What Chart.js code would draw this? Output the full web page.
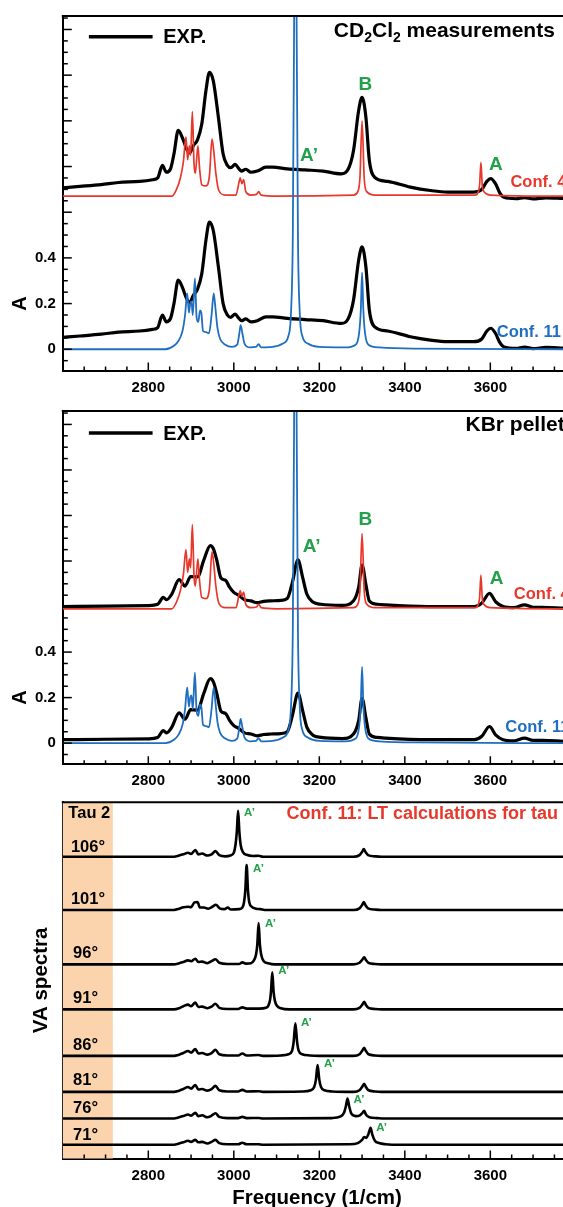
<!DOCTYPE html>
<html>
<head>
<meta charset="utf-8">
<title>CH stretching region: experiment vs. calculated VA spectra</title>
<script src="https://cdn.jsdelivr.net/npm/chart.js"></script>
<style>
  html, body { margin: 0; padding: 0; background: #fff; overflow: hidden; }
  body { width: 563px; height: 1207px; position: relative; }
  canvas { position: absolute; left: 0; }
  #cd2cl2 { top: 0; }
  #kbr { top: 395px; }
  #tau { top: 790px; }
</style>
</head>
<body>
<canvas id="cd2cl2" width="563" height="400"></canvas>
<canvas id="kbr" width="563" height="400"></canvas>
<canvas id="tau" width="563" height="417"></canvas>
<script>
// ---- data (frequency in 1/cm, absorbance) ----
const freqTicks = [2800, 3000, 3200, 3400, 3600];
const absTicks = [0, 0.2, 0.4];

const expCD2Cl2 = [[2600,0.052],[2640,0.058],[2690,0.066],[2730,0.075],[2780,0.08],[2810,0.087],[2822,0.095],
  [2833,0.150],[2842,0.12],[2852,0.135],[2860,0.2],[2870,0.303],[2880,0.27],[2890,0.22],[2897,0.205],
  [2905,0.235],[2915,0.262],[2925,0.33],[2935,0.48],[2943,0.557],[2952,0.52],[2964,0.36],[2975,0.2],
  [2985,0.15],[2993,0.14],[3003,0.154],[3012,0.135],[3018,0.125],[3028,0.133],[3040,0.12],[3055,0.125],
  [3075,0.142],[3091,0.142],[3125,0.135],[3167,0.13],[3209,0.125],[3251,0.113],[3268,0.135],[3280,0.215],
  [3292,0.39],[3300,0.448],[3309,0.36],[3317,0.172],[3329,0.099],[3360,0.08],[3413,0.055],[3460,0.04],
  [3500,0.033],[3560,0.033],[3580,0.045],[3592,0.08],[3601,0.092],[3612,0.07],[3622,0.03],[3632,0.01],
  [3660,0.004],[3680,0.009],[3700,0.003],[3730,0.008],[3770,0.005]];

const expKBr = [[2600,0.015],[2700,0.017],[2800,0.019],[2822,0.025],[2835,0.055],[2843,0.045],[2855,0.07],
  [2872,0.133],[2886,0.105],[2899,0.147],[2915,0.145],[2930,0.22],[2945,0.283],[2952,0.27],[2960,0.22],
  [2970,0.14],[2981,0.13],[2990,0.1],[3000,0.077],[3011,0.065],[3025,0.045],[3040,0.04],[3054,0.032],
  [3070,0.038],[3087,0.04],[3110,0.042],[3125,0.05],[3137,0.121],[3150,0.22],[3161,0.143],[3171,0.069],
  [3185,0.035],[3204,0.025],[3254,0.02],[3280,0.04],[3292,0.099],[3300,0.197],[3309,0.111],[3317,0.04],
  [3335,0.025],[3355,0.022],[3455,0.015],[3563,0.015],[3580,0.03],[3598,0.073],[3613,0.035],[3630,0.015],
  [3655,0.01],[3680,0.022],[3700,0.012],[3722,0.012],[3770,0.008]];

const conf4 = [[2600,0],[2855,0],[2866,0.03],[2875,0.08],[2882,0.15],[2888,0.26],[2892,0.16],[2896,0.22],
  [2899,0.18],[2903,0.37],[2907,0.14],[2910,0.1],[2916,0.22],[2920,0.12],[2925,0.05],[2935,0.045],
  [2943,0.09],[2949,0.25],[2953,0.2],[2958,0.1],[2965,0.025],[2980,0.005],[3005,0.005],[3012,0.06],
  [3015,0.08],[3019,0.055],[3023,0.073],[3028,0.02],[3040,0.005],[3053,0.008],[3058,0.02],[3064,0.005],
  [3100,0],[3280,0.005],[3290,0.02],[3295,0.08],[3300,0.33],[3305,0.08],[3311,0.02],[3330,0.005],
  [3565,0.005],[3572,0.02],[3575,0.05],[3578,0.148],[3581,0.05],[3585,0.02],[3600,0.005],[3770,0]];

const conf11 = [[2600,0],[2840,0],[2860,0.015],[2870,0.035],[2880,0.08],[2886,0.15],[2891,0.245],[2895,0.16],
  [2898,0.2],[2901,0.21],[2904,0.15],[2909,0.31],[2913,0.14],[2917,0.12],[2921,0.17],[2924,0.16],
  [2928,0.08],[2935,0.075],[2942,0.07],[2948,0.15],[2953,0.245],[2957,0.18],[2962,0.09],[2968,0.045],
  [2980,0.02],[2995,0.01],[3008,0.02],[3013,0.07],[3016,0.106],[3020,0.07],[3025,0.025],[3038,0.008],
  [3052,0.01],[3058,0.022],[3064,0.008],[3090,0.01],[3115,0.025],[3128,0.06],[3134,0.17],[3138,0.5],
  [3141,1.4],[3144,2.6],[3147,1.4],[3150,0.5],[3154,0.17],[3160,0.06],[3173,0.025],[3200,0.01],
  [3260,0.008],[3285,0.02],[3293,0.07],[3297,0.17],[3300,0.335],[3303,0.17],[3307,0.07],[3315,0.02],
  [3340,0.008],[3420,0.003],[3770,0]];

// vertical shifts of the stacked traces
const cdExpShift = 0.655, cdConf4Shift = 0.67;
const kbrExpShift = 0.585, kbrConf4Shift = 0.59;

// LT calculations for tau 2 (arbitrary units, relative to each baseline)
const tauAngles = ['106°', '101°', '96°', '91°', '86°', '81°', '76°', '71°'];
const tauShifts = [7.54, 6.21, 4.85, 3.725, 2.565, 1.665, 1.0, 0.345];

const tau106 = [[2600,0],[2860,0],[2872,0.03],[2882,0.06],[2893,0.1],[2900,0.07],[2910,0.17],[2917,0.06],
  [2926,0.08],[2938,0.03],[2948,0.06],[2957,0.14],[2966,0.04],[2980,0.01],[2992,0.03],[3000,0.1],[3004,0.3],
  [3007,0.62],[3010,1.15],[3013,0.62],[3016,0.3],[3021,0.12],[3030,0.05],[3045,0.02],[3058,0.025],[3068,0],
  [3280,0],[3294,0.04],[3300,0.12],[3304,0.19],[3308,0.12],[3314,0.04],[3330,0.01],[3345,0],[3770,0]];
const tau101 = [[2600,0],[2860,0],[2872,0.03],[2882,0.07],[2893,0.08],[2900,0.07],[2908,0.19],[2915,0.2],
  [2921,0.06],[2930,0.06],[2940,0.03],[2950,0.08],[2958,0.13],[2967,0.04],[2978,0.02],[2986,0.06],[2993,0.01],
  [3012,0.02],[3020,0.06],[3024,0.2],[3027,0.5],[3030,1.125],[3033,0.5],[3036,0.2],[3042,0.08],[3052,0.03],
  [3062,0.02],[3072,0],[3280,0],[3294,0.04],[3300,0.12],[3304,0.2],[3308,0.12],[3314,0.04],[3330,0.01],
  [3345,0],[3770,0]];
const tau96 = [[2600,0],[2860,0],[2872,0.03],[2882,0.06],[2893,0.1],[2900,0.08],[2910,0.14],[2917,0.06],
  [2926,0.07],[2938,0.03],[2948,0.08],[2957,0.13],[2966,0.04],[2985,0.01],[3012,0.01],[3020,0.05],[3028,0.02],
  [3040,0.03],[3047,0.1],[3052,0.25],[3055,0.5],[3058,1.03],[3061,0.5],[3064,0.25],[3070,0.08],[3080,0.03],
  [3095,0],[3280,0],[3294,0.04],[3300,0.11],[3305,0.18],[3309,0.11],[3315,0.04],[3330,0.01],[3345,0],[3770,0]];
const tau91 = [[2600,0],[2860,0],[2872,0.03],[2882,0.08],[2893,0.12],[2900,0.08],[2910,0.17],[2917,0.06],
  [2926,0.07],[2938,0.03],[2948,0.07],[2957,0.14],[2966,0.04],[2985,0.01],[3010,0.01],[3020,0.05],[3030,0.02],
  [3060,0.02],[3075,0.04],[3081,0.1],[3085,0.25],[3087,0.45],[3090,0.93],[3093,0.45],[3096,0.22],[3101,0.09],
  [3110,0.03],[3130,0],[3280,0],[3294,0.04],[3300,0.11],[3305,0.19],[3309,0.11],[3315,0.04],[3330,0.01],
  [3345,0],[3770,0]];
const tau86 = [[2600,0],[2860,0],[2872,0.03],[2882,0.07],[2893,0.12],[2900,0.08],[2910,0.17],[2917,0.06],
  [2926,0.07],[2938,0.03],[2948,0.07],[2957,0.15],[2966,0.04],[2985,0.01],[3010,0.01],[3020,0.06],[3030,0.01],
  [3058,0.02],[3068,0],[3110,0.01],[3128,0.04],[3136,0.12],[3140,0.35],[3144,0.81],[3148,0.35],[3152,0.12],
  [3160,0.04],[3178,0.01],[3200,0],[3280,0],[3294,0.04],[3300,0.12],[3305,0.2],[3309,0.12],[3315,0.04],
  [3330,0.01],[3345,0],[3770,0]];
const tau81 = [[2600,0],[2860,0],[2872,0.03],[2882,0.07],[2893,0.12],[2900,0.08],[2910,0.17],[2917,0.06],
  [2926,0.07],[2938,0.03],[2948,0.07],[2957,0.15],[2966,0.04],[2985,0.01],[3010,0.01],[3020,0.05],[3030,0.01],
  [3058,0.015],[3068,0],[3160,0.01],[3180,0.04],[3188,0.12],[3192,0.3],[3196,0.67],[3200,0.3],[3204,0.12],
  [3212,0.04],[3230,0.01],[3280,0],[3294,0.04],[3300,0.12],[3305,0.2],[3309,0.12],[3315,0.04],[3330,0.01],
  [3345,0],[3770,0]];
const tau76 = [[2600,0],[2860,0],[2872,0.03],[2882,0.06],[2893,0.1],[2900,0.07],[2910,0.14],[2917,0.06],
  [2926,0.08],[2938,0.03],[2948,0.07],[2957,0.13],[2966,0.04],[2985,0.01],[3010,0.01],[3020,0.04],[3030,0.01],
  [3058,0.012],[3068,0],[3230,0.01],[3250,0.05],[3258,0.15],[3262,0.3],[3266,0.5],[3270,0.3],[3275,0.12],
  [3285,0.06],[3295,0.08],[3301,0.14],[3305,0.19],[3309,0.1],[3317,0.03],[3335,0.01],[3350,0],[3770,0]];
const tau71 = [[2600,0],[2860,0],[2872,0.03],[2882,0.06],[2893,0.1],[2900,0.07],[2910,0.12],[2917,0.06],
  [2926,0.07],[2938,0.03],[2948,0.07],[2957,0.12],[2966,0.04],[2985,0.01],[3010,0.01],[3020,0.05],[3030,0.01],
  [3058,0.012],[3068,0],[3270,0.01],[3290,0.04],[3300,0.12],[3305,0.19],[3310,0.17],[3315,0.27],[3320,0.42],
  [3324,0.25],[3330,0.1],[3340,0.04],[3355,0.01],[3370,0],[3770,0]];
const tauSpectra = [tau106, tau101, tau96, tau91, tau86, tau81, tau76, tau71];

// ---- styling ----
const RED = '#e8382c', BLUE = '#1f6ec0', GREEN = '#22a04a', PEACH = '#fbd4ae';
const FONT = "'Liberation Sans', Arial, Helvetica, sans-serif";
Chart.defaults.font.family = FONT;
Chart.defaults.color = '#000';

function trace(points, shift, color, width) {
  return {
    data: points.map(p => ({ x: p[0], y: p[1] + shift })),
    borderColor: color,
    borderWidth: width,
    pointRadius: 0,
    fill: false,
    cubicInterpolationMode: 'monotone'
  };
}

function freqAxis(height) {
  return {
    type: 'linear', min: 2600, max: 3770,
    grid: { display: false, drawTicks: false },
    border: { display: true, color: '#000', width: 2 },
    ticks: { padding: 8, color: '#000', font: { size: 15, weight: 'bold' }, callback: v => String(v) },
    afterBuildTicks: s => { s.ticks = freqTicks.map(v => ({ value: v })); },
    afterFit: s => { s.height = height; }
  };
}

function absAxis(min, max) {
  return {
    type: 'linear', min: min, max: max,
    grid: { display: false, drawTicks: false },
    border: { display: true, color: '#000', width: 2 },
    ticks: { padding: 7, color: '#000', font: { size: 15, weight: 'bold' },
             callback: v => v === 0 ? '0' : v.toFixed(1) },
    afterBuildTicks: s => { s.ticks = absTicks.map(v => ({ value: v })); },
    afterFit: s => { s.width = 62.8; }
  };
}

function line(ctx, x1, y1, x2, y2) {
  ctx.beginPath(); ctx.moveTo(x1, y1); ctx.lineTo(x2, y2); ctx.stroke();
}

function text(ctx, str, x, y, size, color, align) {
  ctx.font = 'bold ' + size + 'px ' + FONT;
  ctx.fillStyle = color || '#000';
  ctx.textAlign = align || 'left';
  ctx.textBaseline = 'middle';
  ctx.fillText(str, x, y);
}

// frame, inward ticks, labels and the peach band
function decor(spec) {
  return {
    id: 'decor',
    beforeDatasetsDraw(chart) {
      if (!spec.band) return;
      const { ctx, chartArea: a, scales: { x } } = chart;
      ctx.save();
      ctx.fillStyle = PEACH;
      ctx.fillRect(a.left, a.top, x.getPixelForValue(spec.band) - a.left, a.bottom - a.top);
      ctx.restore();
    },
    afterDraw(chart) {
      const { ctx, chartArea: a, scales: { x, y } } = chart;
      ctx.save();
      ctx.strokeStyle = '#000';
      ctx.lineWidth = 2;
      line(ctx, a.left - 1, a.top, a.right, a.top);

      ctx.lineWidth = 1.5;
      for (let v = 2650; v <= x.max; v += 50) {
        const px = x.getPixelForValue(v);
        line(ctx, px, a.bottom, px, a.bottom - (v % 200 === 0 ? 8 : 4));
      }
      if (spec.yTicks) {
        for (let k = -1; k <= 29; k++) {
          const py = y.getPixelForValue(k * 0.05);
          line(ctx, a.left, py, a.left + (k % 4 === 0 ? 9 : 5), py);
        }
      }

      if (spec.legendY !== undefined) {
        const ly = y.getPixelForValue(spec.legendY);
        ctx.lineWidth = 3.5;
        line(ctx, x.getPixelForValue(2661), ly, x.getPixelForValue(2810), ly);
        text(ctx, 'EXP.', x.getPixelForValue(2835), ly + 1, 20);
      }

      if (spec.title) {
        let tx = x.getPixelForValue(spec.title.x);
        const ty = y.getPixelForValue(spec.title.y);
        spec.title.parts.forEach(([s, sub]) => {
          const size = sub ? 14 : 21;
          text(ctx, s, tx, ty + (sub ? 6.5 : 0), size);
          tx += ctx.measureText(s).width;
        });
      }

      (spec.labels || []).forEach(l => {
        text(ctx, l.text, x.getPixelForValue(l.x), y.getPixelForValue(l.y), l.size, l.color, l.align);
      });

      if (spec.yLetter !== undefined) {
        ctx.save();
        ctx.translate(20, y.getPixelForValue(spec.yLetter));
        ctx.rotate(-Math.PI / 2);
        text(ctx, 'A', 0, 0, 20, '#000', 'center');
        ctx.restore();
      }
      if (spec.yTitle) {
        ctx.save();
        ctx.translate(41, (a.top + a.bottom) / 2);
        ctx.rotate(-Math.PI / 2);
        text(ctx, spec.yTitle, 0, 0, 20.5, '#000', 'center');
        ctx.restore();
      }
      if (spec.xTitle) {
        text(ctx, spec.xTitle, 317, chart.height - 9, 20.5, '#000', 'center');
      }
      ctx.restore();
    }
  };
}

function baseOptions(top) {
  return {
    responsive: false,
    animation: false,
    devicePixelRatio: 1,
    events: [],
    layout: { padding: { top: top, left: 0, right: 0, bottom: 0 } },
    plugins: { legend: { display: false }, tooltip: { enabled: false } }
  };
}

// ---- panel 1: CD2Cl2 ----
const opt1 = baseOptions(15);
opt1.scales = { x: freqAxis(29.5), y: absAxis(-0.093, 1.459) };
new Chart(document.getElementById('cd2cl2'), {
  type: 'line',
  data: { datasets: [
    trace(conf11, 0, BLUE, 1.8),
    trace(conf4, cdConf4Shift, RED, 1.7),
    trace(expCD2Cl2, cdExpShift, '#000', 3.2),
    trace(expCD2Cl2, 0, '#000', 3.2)
  ] },
  options: opt1,
  plugins: [decor({
    yTicks: true,
    legendY: 1.368,
    yLetter: 0.2,
    title: { x: 3234, y: 1.391, parts: [['CD', 0], ['2', 1], ['Cl', 0], ['2', 1], [' measurements', 0]] },
    labels: [
      { text: 'A’', x: 3155, y: 0.848, size: 19, color: GREEN },
      { text: 'B', x: 3308, y: 1.157, size: 19, color: GREEN, align: 'center' },
      { text: 'A', x: 3613, y: 0.809, size: 19, color: GREEN, align: 'center' },
      { text: 'Conf. 4', x: 3647, y: 0.732, size: 16.5, color: RED },
      { text: 'Conf. 11', x: 3615, y: 0.074, size: 16.5, color: BLUE }
    ]
  })]
});

// ---- panel 2: KBr pellet ----
const opt2 = baseOptions(14);
opt2.scales = { x: freqAxis(30.7), y: absAxis(-0.093, 1.459) };
new Chart(document.getElementById('kbr'), {
  type: 'line',
  data: { datasets: [
    trace(conf11, 0, BLUE, 1.8),
    trace(conf4, kbrConf4Shift, RED, 1.7),
    trace(expKBr, kbrExpShift, '#000', 3.2),
    trace(expKBr, 0, '#000', 3.2)
  ] },
  options: opt2,
  plugins: [decor({
    yTicks: true,
    legendY: 1.362,
    yLetter: 0.2,
    labels: [
      { text: 'KBr pellet', x: 3542, y: 1.395, size: 21 },
      { text: 'A’', x: 3161, y: 0.863, size: 19, color: GREEN },
      { text: 'B', x: 3308, y: 0.98, size: 19, color: GREEN, align: 'center' },
      { text: 'A', x: 3615, y: 0.72, size: 19, color: GREEN, align: 'center' },
      { text: 'Conf. 4', x: 3655, y: 0.655, size: 16.5, color: RED },
      { text: 'Conf. 11', x: 3635, y: 0.07, size: 16.5, color: BLUE }
    ]
  })]
});

// ---- panel 3: tau 2 scan ----
const opt3 = baseOptions(12.3);
const tauY = absAxis(0, 8.9);
tauY.ticks = { display: false };
tauY.afterBuildTicks = s => { s.ticks = []; };
opt3.scales = { x: freqAxis(48.5), y: tauY };
const tauLabelY = [7.765, 6.48, 5.125, 4.0, 2.83, 1.96, 1.25, 0.58];
const tauPrimeAt = [[3024, 8.625], [3045, 7.25], [3073, 5.875], [3104, 4.69], [3157, 3.39], [3211, 2.375], [3280, 1.475], [3333, 0.775]];
const tauLabels = [
  { text: 'Tau 2', x: 2613, y: 8.61, size: 16.5 },
  { text: 'Conf. 11: LT calculations for tau 2', x: 3123, y: 8.6, size: 18, color: RED }
];
tauAngles.forEach((t, i) => {
  tauLabels.push({ text: t, x: i < 2 ? 2619 : 2624, y: tauLabelY[i], size: 16.5 });
  tauLabels.push({ text: 'A’', x: tauPrimeAt[i][0], y: tauPrimeAt[i][1], size: 11.5, color: GREEN });
});
new Chart(document.getElementById('tau'), {
  type: 'line',
  data: { datasets: tauSpectra.map((s, i) => trace(s, tauShifts[i], '#000', 2.6)) },
  options: opt3,
  plugins: [decor({
    band: 2717,
    labels: tauLabels,
    yTitle: 'VA spectra',
    xTitle: 'Frequency (1/cm)'
  })]
});
</script>
</body>
</html>
